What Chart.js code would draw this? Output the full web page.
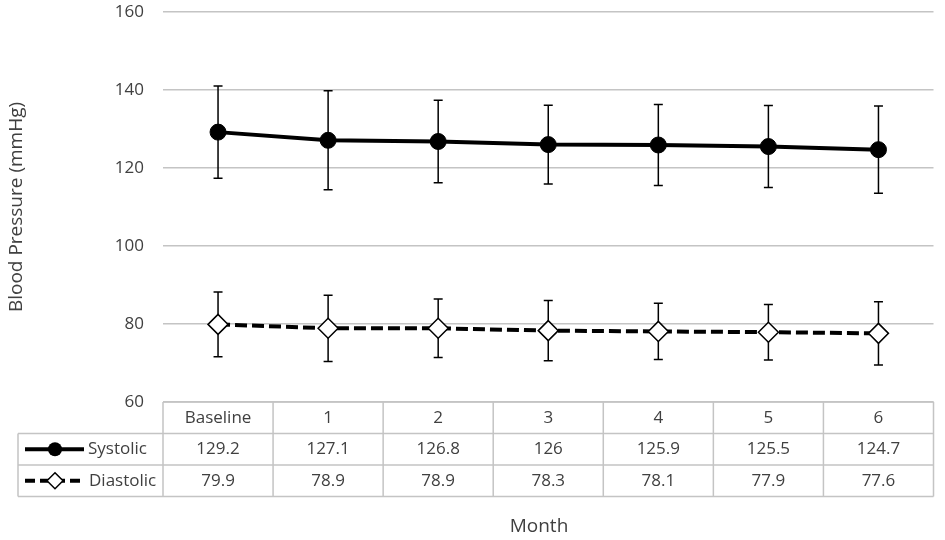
<!DOCTYPE html>
<html>
<head>
<meta charset="utf-8">
<script src="https://cdn.jsdelivr.net/npm/chart.js@4"></script>
<style>
  html, body { margin: 0; padding: 0; background: #fff; }
  #wrap { width: 945px; height: 540px; position: relative; }
</style>
</head>
<body>
<div id="wrap"><canvas id="bp-chart"></canvas></div>
<script>
    "use strict";

    // Data
    var months = ["Baseline", "1", "2", "3", "4", "5", "6"];
    var systolic = [129.2, 127.1, 126.8, 126, 125.9, 125.5, 124.7];
    var systolicSD = [11.8, 12.7, 10.6, 10.1, 10.4, 10.5, 11.2];
    var diastolic = [79.9, 78.9, 78.9, 78.3, 78.1, 77.9, 77.6];
    var diastolicSD = [8.3, 8.5, 7.5, 7.7, 7.2, 7.1, 8.1];
    var yMin = 60, yMax = 160, yStep = 20;

    var FONT = "'Open Sans', 'Noto Sans', sans-serif";
    var TEXT = "#404040";
    var GRID = "#c4c4c4";

    // Error bars, drawn under the markers
    var errorBars = {
        id: "errorBars",
        beforeDatasetsDraw: function (chart) {
            var ctx = chart.ctx, xs = chart.scales.x, ys = chart.scales.y;
            var sets = [[systolic, systolicSD], [diastolic, diastolicSD]];
            ctx.save();
            ctx.strokeStyle = "#000";
            ctx.lineWidth = 1.5;
            sets.forEach(function (s) {
                s[0].forEach(function (v, i) {
                    var x = xs.getPixelForValue(i);
                    var yt = ys.getPixelForValue(v + s[1][i]);
                    var yb = ys.getPixelForValue(v - s[1][i]);
                    ctx.beginPath();
                    ctx.moveTo(x, yt); ctx.lineTo(x, yb);
                    ctx.moveTo(x - 4.5, yt); ctx.lineTo(x + 4.5, yt);
                    ctx.moveTo(x - 4.5, yb); ctx.lineTo(x + 4.5, yb);
                    ctx.stroke();
                });
            });
            ctx.restore();
        }
    };

    // Data table under the plot + x axis title
    var dataTable = {
        id: "dataTable",
        afterDraw: function (chart) {
            var ctx = chart.ctx, xs = chart.scales.x, area = chart.chartArea;
            var half = (xs.getPixelForValue(1) - xs.getPixelForValue(0)) / 2;
            var top = area.bottom, rowH = 31.5, tableLeft = 18;
            var rows = [top, top + rowH, top + 2 * rowH, top + 3 * rowH];

            ctx.save();
            ctx.strokeStyle = GRID;
            ctx.lineWidth = 1.5;
            ctx.beginPath();
            ctx.moveTo(area.left, rows[0]); ctx.lineTo(area.right, rows[0]);
            for (var r = 1; r < 4; r++) {
                ctx.moveTo(tableLeft, rows[r]); ctx.lineTo(area.right, rows[r]);
            }
            ctx.moveTo(tableLeft, rows[1]); ctx.lineTo(tableLeft, rows[3]);
            for (var c = 0; c <= months.length; c++) {
                var xb = (c < months.length ? xs.getPixelForValue(c) - half : area.right);
                ctx.moveTo(xb, rows[0]); ctx.lineTo(xb, rows[3]);
            }
            ctx.stroke();

            ctx.fillStyle = TEXT;
            ctx.font = "17px " + FONT;
            ctx.textAlign = "center";
            ctx.textBaseline = "middle";
            months.forEach(function (m, i) {
                var x = xs.getPixelForValue(i);
                ctx.fillText(m, x, rows[0] + rowH / 2);
                ctx.fillText(String(systolic[i]), x, rows[1] + rowH / 2);
                ctx.fillText(String(diastolic[i]), x, rows[2] + rowH / 2);
            });

            // legend keys
            ctx.textAlign = "left";
            ctx.fillText("Systolic", 88, rows[1] + rowH / 2);
            ctx.fillText("Diastolic", 89, rows[2] + rowH / 2);

            var y1 = rows[1] + rowH / 2, y2 = rows[2] + rowH / 2;
            ctx.strokeStyle = "#000";
            ctx.lineWidth = 4;
            ctx.beginPath();
            ctx.moveTo(25, y1); ctx.lineTo(84, y1);
            ctx.stroke();
            ctx.fillStyle = "#000";
            ctx.beginPath();
            ctx.arc(55, y1, 7, 0, Math.PI * 2);
            ctx.fill();

            ctx.setLineDash([10, 5]);
            ctx.beginPath();
            ctx.moveTo(25, y2); ctx.lineTo(84, y2);
            ctx.stroke();
            ctx.setLineDash([]);
            ctx.fillStyle = "#fff";
            ctx.lineWidth = 1.5;
            ctx.beginPath();
            ctx.moveTo(55, y2 - 8); ctx.lineTo(63, y2); ctx.lineTo(55, y2 + 8); ctx.lineTo(47, y2);
            ctx.closePath();
            ctx.fill(); ctx.stroke();

            ctx.fillStyle = TEXT;
            ctx.font = "19px " + FONT;
            ctx.textAlign = "center";
            ctx.fillText("Month", 539, 527);
            ctx.restore();
        }
    };

    var ctx1 = document.getElementById("bp-chart").getContext("2d");
    var myChart1 = new Chart(ctx1, {
        type: "line",
        data: {
            labels: months,
            datasets: [{
                    label: "Systolic",
                    data: systolic,
                    borderColor: "#000",
                    backgroundColor: "#000",
                    borderWidth: 4,
                    pointStyle: "circle",
                    pointRadius: 8,
                    pointBorderWidth: 1,
                    pointBackgroundColor: "#000",
                    pointBorderColor: "#000"
                },
                {
                    label: "Diastolic",
                    data: diastolic,
                    borderColor: "#000",
                    backgroundColor: "#fff",
                    borderWidth: 4,
                    borderDash: [12, 5],
                    pointStyle: "rectRot",
                    pointRadius: 10,
                    pointBorderWidth: 1.5,
                    pointBackgroundColor: "#fff",
                    pointBorderColor: "#000"
                }
            ]
        },
        options: {
            responsive: true,
            maintainAspectRatio: false,
            animation: false,
            layout: { padding: { top: 12, right: 2, left: 0, bottom: 0 } },
            plugins: {
                legend: { display: false },
                tooltip: { enabled: false }
            },
            scales: {
                x: {
                    type: "category",
                    offset: true,
                    grid: { display: false },
                    border: { display: false },
                    ticks: { display: false },
                    afterFit: function (scale) {
                        scale.height = 138;
                        scale.paddingLeft = 0; scale.paddingRight = 0;
                    }
                },
                y: {
                    min: yMin,
                    max: yMax,
                    ticks: {
                        stepSize: yStep,
                        color: TEXT,
                        font: { family: FONT, size: 17 },
                        padding: 19
                    },
                    grid: { color: GRID, lineWidth: 1.5, drawTicks: false },
                    border: { display: false },
                    title: {
                        display: true,
                        text: "Blood Pressure (mmHg)",
                        color: TEXT,
                        font: { family: FONT, size: 19 },
                        padding: { top: 5, bottom: 0 }
                    },
                    afterFit: function (scale) {
                        scale.width = 163;
                        scale.paddingTop = 0; scale.paddingBottom = 0;
                    }
                }
            }
        },
        plugins: [errorBars, dataTable]
    });
</script>
</body>
</html>
